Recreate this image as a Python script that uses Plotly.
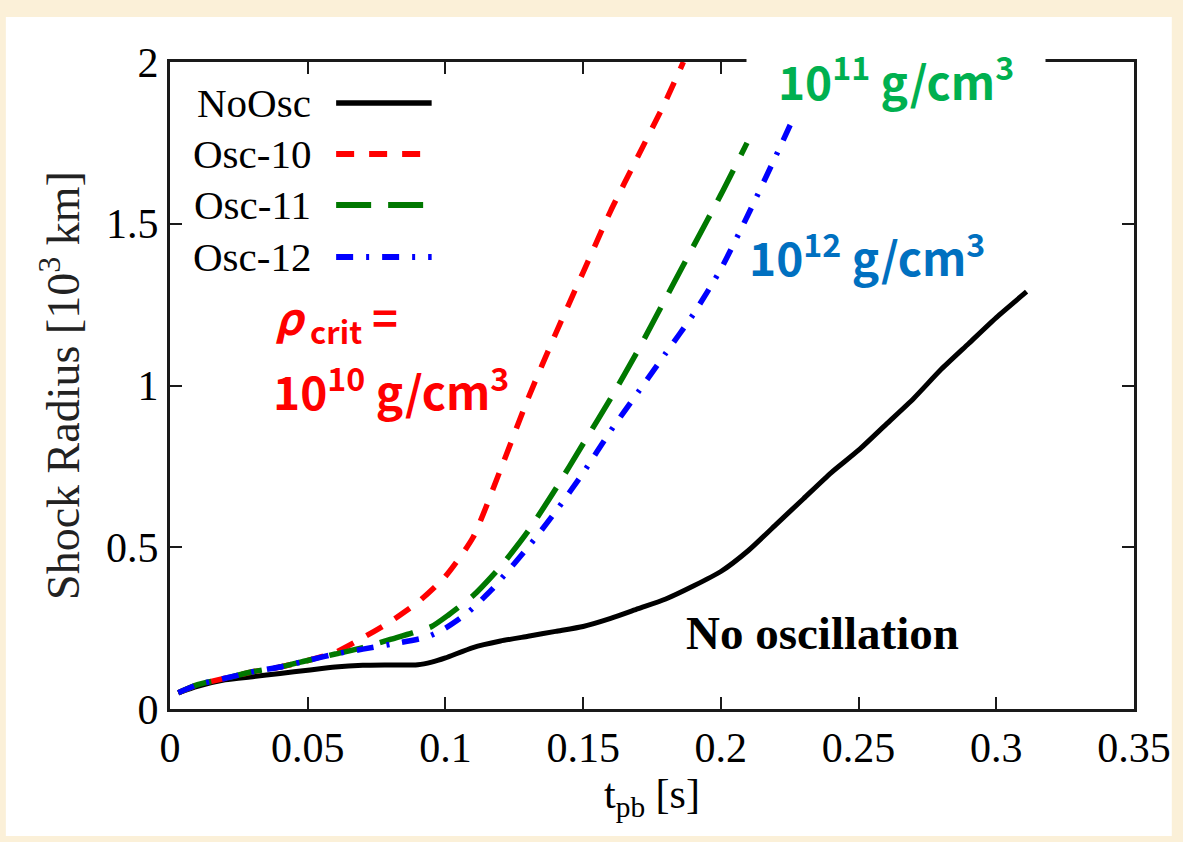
import plotly.graph_objects as go

# ---------------- data ----------------
t_noosc = [0.003, 0.01, 0.02, 0.03, 0.04, 0.05, 0.06, 0.07, 0.08, 0.09, 0.095, 0.10,
           0.11, 0.12, 0.13, 0.14, 0.15, 0.16, 0.17, 0.18, 0.19, 0.20, 0.21, 0.22,
           0.23, 0.24, 0.25, 0.26, 0.27, 0.28, 0.29, 0.30, 0.311]
r_noosc = [0.05, 0.07, 0.09, 0.10, 0.11, 0.12, 0.13, 0.135, 0.136, 0.137, 0.145, 0.158,
           0.19, 0.21, 0.225, 0.24, 0.255, 0.28, 0.31, 0.34, 0.38, 0.425, 0.49, 0.57,
           0.65, 0.73, 0.80, 0.88, 0.96, 1.05, 1.13, 1.21, 1.29]

t_osc10 = [0.003, 0.01, 0.02, 0.03, 0.04, 0.05, 0.06, 0.07, 0.08, 0.09, 0.10, 0.11,
           0.12, 0.13, 0.14, 0.15, 0.16, 0.17, 0.18, 0.1864]
r_osc10 = [0.05, 0.075, 0.095, 0.115, 0.13, 0.15, 0.175, 0.22, 0.27, 0.33, 0.41, 0.53,
           0.74, 0.96, 1.16, 1.35, 1.54, 1.71, 1.88, 2.0]

t_osc11 = [0.003, 0.01, 0.02, 0.03, 0.04, 0.05, 0.06, 0.07, 0.08, 0.088, 0.095, 0.101,
           0.11, 0.12, 0.13, 0.14, 0.15, 0.16, 0.17, 0.18, 0.19, 0.20, 0.2095]
r_osc11 = [0.05, 0.075, 0.095, 0.115, 0.13, 0.15, 0.17, 0.19, 0.215, 0.235, 0.255, 0.29,
           0.35, 0.44, 0.55, 0.68, 0.82, 0.96, 1.11, 1.27, 1.43, 1.59, 1.75]

t_osc12 = [0.003, 0.01, 0.02, 0.03, 0.04, 0.05, 0.06, 0.07, 0.08, 0.093, 0.10, 0.108,
           0.1167, 0.12, 0.13, 0.14, 0.15, 0.16, 0.17, 0.18, 0.19, 0.20, 0.21, 0.22, 0.2265]
r_osc12 = [0.05, 0.075, 0.095, 0.115, 0.13, 0.15, 0.17, 0.185, 0.20, 0.222, 0.25, 0.297,
           0.368, 0.40, 0.50, 0.61, 0.73, 0.86, 0.98, 1.10, 1.22, 1.36, 1.53, 1.71, 1.83]

x_tickvals = [0, 0.05, 0.1, 0.15, 0.2, 0.25, 0.3, 0.35]
x_ticktext = ["0", "0.05", "0.1", "0.15", "0.2", "0.25", "0.3", "0.35"]
y_tickvals = [0, 0.5, 1, 1.5, 2]
y_ticktext = ["0", "0.5", "1", "1.5", "2"]

series_names = ["NoOsc", "Osc-10", "Osc-11", "Osc-12"]
series_colors = ["#000000", "#ff0000", "#007800", "#0000ff"]
series_dash = ["solid", "18px,15px", "35px,17px", "17px,13px,3px,13px"]
series_width = [5, 5.5, 5.5, 5.5]

# ---------------- layout geometry (pixels) ----------------
W, H = 1183, 842
L, R, T, B = 170, 1139, 62, 709   # plot area edges in px


def px_x(px):
    return (px - L) / (R - L)


def px_y(py):
    return (B - py) / (B - T)


SERIF = "Liberation Serif, Times New Roman, serif"
SANS = "Noto Sans CJK JP, Noto Sans, sans-serif"

fig = go.Figure()
for t, r, name, c, d, w in zip([t_noosc, t_osc10, t_osc11, t_osc12],
                               [r_noosc, r_osc10, r_osc11, r_osc12],
                               series_names, series_colors, series_dash, series_width):
    fig.add_trace(go.Scatter(x=t, y=r, mode="lines", name=name,
                             line=dict(color=c, dash=d, width=w, shape="spline", smoothing=0.6),
                             showlegend=False))

# outer white panel on cream background
shapes = [dict(type="rect", xref="paper", yref="paper", layer="below",
               x0=px_x(5), x1=px_x(1177), y0=px_y(836), y1=px_y(17),
               fillcolor="white", line=dict(width=0))]

annotations = []
# custom gnuplot-style legend (text left, sample right)
leg_y = [103, 154, 205, 257]
for name, c, d, w, py in zip(series_names, series_colors, series_dash, series_width, leg_y):
    annotations.append(dict(xref="paper", yref="paper", x=px_x(314), y=px_y(py),
                            xanchor="right", yanchor="middle", text=name, showarrow=False,
                            font=dict(family=SERIF, size=41, color="black")))
    shapes.append(dict(type="line", xref="paper", yref="paper",
                       x0=px_x(337), x1=px_x(433), y0=px_y(py), y1=px_y(py),
                       line=dict(color=c, dash=d, width=w + 0.5)))

# text labels
LBL = 46
annotations.append(dict(xref="paper", yref="paper", x=px_x(274), y=px_y(318),
                        xanchor="left", yanchor="middle", align="left", showarrow=False,
                        text="<i>ρ</i><sub> crit</sub> =",
                        font=dict(family=SANS, size=LBL - 2, color="#ff0000", weight="bold")))
annotations.append(dict(xref="paper", yref="paper", x=px_x(272), y=px_y(388),
                        xanchor="left", yanchor="middle", align="left", showarrow=False,
                        text="10<sup>10</sup> g/cm<sup>3</sup>",
                        font=dict(family=SANS, size=LBL, color="#ff0000", weight="bold")))
annotations.append(dict(xref="paper", yref="paper", x=px_x(900), y=px_y(78),
                        xanchor="center", yanchor="middle", showarrow=False,
                        width=296, height=70, bgcolor="white",
                        text="10<sup>11</sup> g/cm<sup>3</sup>",
                        font=dict(family=SANS, size=LBL, color="#00b050", weight="bold")))
annotations.append(dict(xref="paper", yref="paper", x=px_x(871), y=px_y(254),
                        xanchor="center", yanchor="middle", showarrow=False,
                        text="10<sup>12</sup> g/cm<sup>3</sup>",
                        font=dict(family=SANS, size=LBL, color="#0070c0", weight="bold")))
annotations.append(dict(xref="paper", yref="paper", x=px_x(826), y=px_y(633),
                        xanchor="center", yanchor="middle", showarrow=False,
                        text="No oscillation",
                        font=dict(family=SERIF, size=47, color="black", weight="bold")))

axis_common = dict(showline=True, linecolor="#1a1a1a", linewidth=3, mirror="ticks",
                   ticks="inside", ticklen=12, tickwidth=2, tickcolor="#1a1a1a",
                   showgrid=False, zeroline=False,
                   tickfont=dict(family=SERIF, size=42, color="black"))

fig.update_layout(
    width=W, height=H,
    margin=dict(l=L, r=W - R, t=T, b=H - B),
    paper_bgcolor="#fbf0d8", plot_bgcolor="white",
    xaxis=dict(range=[0, 0.35], tickvals=x_tickvals, ticktext=x_ticktext,
               title=dict(text="t<sub>pb</sub> [s]", font=dict(family=SERIF, size=42, color="black"),
                          standoff=2),
               **axis_common),
    yaxis=dict(range=[0, 2], tickvals=y_tickvals, ticktext=y_ticktext,
               title=dict(text="Shock Radius [10<sup>3</sup> km]",
                          font=dict(family=SERIF, size=46, color="#222"), standoff=12),
               **axis_common),
    shapes=shapes, annotations=annotations,
)

fig.write_html("out.html")
